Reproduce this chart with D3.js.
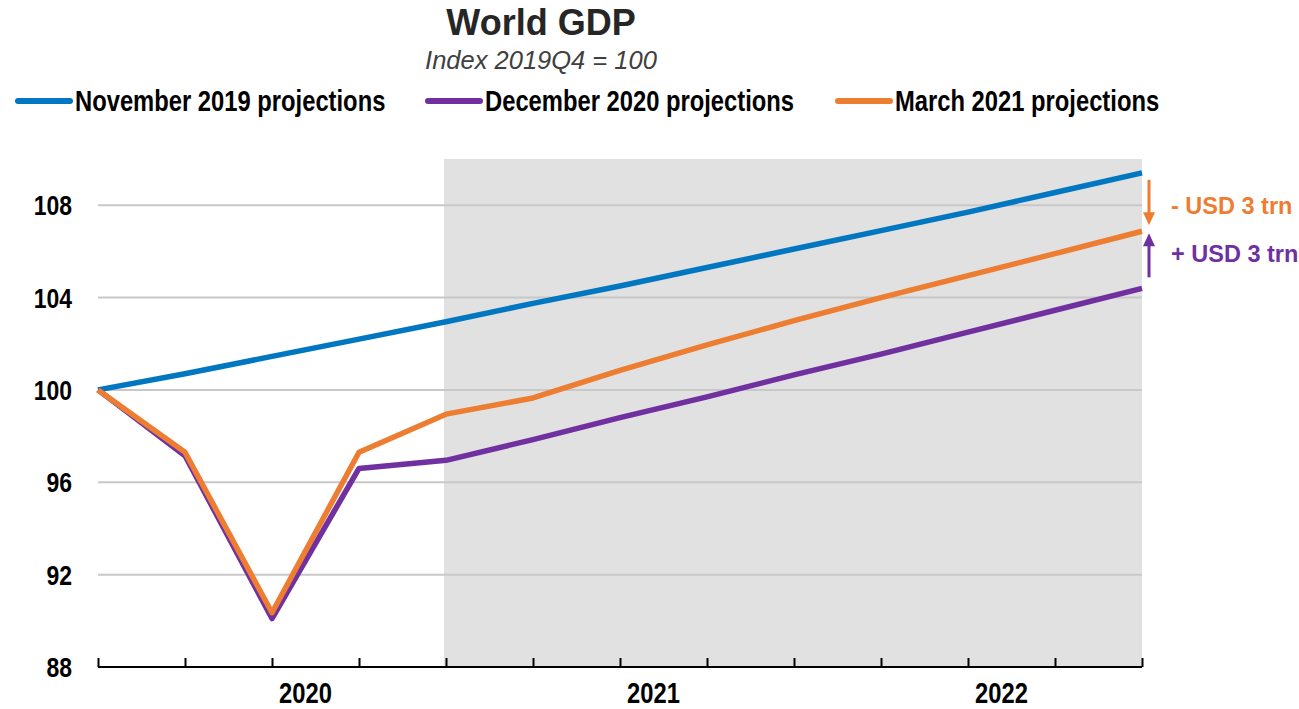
<!DOCTYPE html>
<html>
<head>
<meta charset="utf-8">
<script src="https://cdn.jsdelivr.net/npm/d3@7"></script>
<style>
  body { margin: 0; background: #fff; }
  svg text { font-family: "Liberation Sans", Arial, sans-serif; font-weight: bold; }
</style>
</head>
<body>
<div id="chart"></div>
<script>
var width = 1299, height = 709;

// quarters 2019Q4 .. 2022Q4
var quarters = ["2019Q4", "2020Q1", "2020Q2", "2020Q3", "2020Q4",
                "2021Q1", "2021Q2", "2021Q3", "2021Q4",
                "2022Q1", "2022Q2", "2022Q3", "2022Q4"];
var years = ["2020", "2021", "2022"];
var nov2019 = [100, 100.7, 101.45, 102.2, 102.95, 103.75, 104.5, 105.3, 106.1, 106.9, 107.7, 108.55, 109.4];
var dec2020 = [100, 97.15, 90.1, 96.6, 96.95, 97.85, 98.8, 99.7, 100.65, 101.55, 102.5, 103.45, 104.4];
var mar2021 = [100, 97.3, 90.35, 97.3, 98.95, 99.65, 100.85, 101.95, 103.0, 104.0, 104.95, 105.9, 106.87];
var yTicks = [88, 92, 96, 100, 104, 108];
var seriesNames = ["November 2019 projections", "December 2020 projections", "March 2021 projections"];
var colors = ["#0077c0", "#7030a0", "#ed7d31"];
var projStart = "2020Q4";

var narrow = 0.82; // no narrow font installed, squeeze regular bold

var x = d3.scalePoint().domain(quarters).range([98, 1142]);
var y = d3.scaleLinear().domain([88, 110]).range([667, 159]);

var svg = d3.select("#chart").append("svg")
    .attr("width", width)
    .attr("height", height);

function squeezed(sel, tx, ty) {
    return sel.attr("transform", "translate(" + tx + "," + ty + ") scale(" + narrow + ",1)");
}

// title
svg.append("text")
    .attr("x", 541).attr("y", 35)
    .attr("text-anchor", "middle")
    .style("font-size", "36px").style("fill", "#262626")
    .text("World GDP");
svg.append("text")
    .attr("x", 541).attr("y", 69)
    .attr("text-anchor", "middle")
    .style("font-size", "25.5px").style("font-weight", "normal")
    .style("font-style", "italic").style("fill", "#404040")
    .text("Index 2019Q4 = 100");

// legend
var legendX = [15, 425, 835];
var legend = svg.selectAll(".legend")
    .data(seriesNames)
    .enter().append("g")
    .attr("transform", (d, i) => "translate(" + legendX[i] + ",101)");
legend.append("line")
    .attr("x1", 3).attr("x2", 55)
    .attr("stroke", (d, i) => colors[i])
    .attr("stroke-width", 6)
    .attr("stroke-linecap", "round");
legend.append("text")
    .call(squeezed, 60, 10)
    .style("font-size", "29px")
    .text(d => d);

// shaded projection area
svg.append("rect")
    .attr("x", x(projStart) - 2)
    .attr("y", y(110))
    .attr("width", x("2022Q4") - x(projStart) + 2)
    .attr("height", y(88) - y(110))
    .attr("fill", "#e1e1e1");

// gridlines
svg.append("g").selectAll("line")
    .data(yTicks.slice(1))
    .enter().append("line")
    .attr("x1", 98).attr("x2", 1142)
    .attr("y1", d => y(d)).attr("y2", d => y(d))
    .attr("stroke", "#c8c8c8")
    .attr("stroke-width", 2);

// y labels
svg.append("g").selectAll("text")
    .data(yTicks)
    .enter().append("text")
    .each(function (d) { squeezed(d3.select(this), 72, y(d)); })
    .attr("dy", "0.36em")
    .attr("text-anchor", "end")
    .style("font-size", "28px")
    .text(d => d);

// x axis
var xAxis = d3.axisBottom(x).tickSize(-9).tickFormat("");
var gx = svg.append("g")
    .attr("transform", "translate(0,667)")
    .call(xAxis);
gx.select(".domain").attr("d", "M98,0H1142").attr("stroke", "#000").attr("stroke-width", 2);
gx.selectAll(".tick line").attr("stroke", "#000").attr("stroke-width", 2);

svg.selectAll(".year")
    .data(years)
    .enter().append("text")
    .each(function (d) {
        squeezed(d3.select(this), (x(d + "Q1") + x(d + "Q4")) / 2 - 10, 703);
    })
    .attr("text-anchor", "middle")
    .style("font-size", "29px")
    .text(d => d);

// lines
var line = d3.line()
    .x((d, i) => x(quarters[i]))
    .y(d => y(d));
[nov2019, dec2020, mar2021].forEach(function (s, i) {
    svg.append("path")
        .datum(s)
        .attr("d", line)
        .attr("fill", "none")
        .attr("stroke", colors[i])
        .attr("stroke-width", 5.5)
        .attr("stroke-linejoin", "round");
});

// arrows
function arrow(x0, yFrom, yTo, color) {
    var dir = yTo > yFrom ? 1 : -1;
    svg.append("line")
        .attr("x1", x0).attr("x2", x0)
        .attr("y1", yFrom).attr("y2", yTo - dir * 10)
        .attr("stroke", color).attr("stroke-width", 3);
    svg.append("path")
        .attr("d", "M" + (x0 - 6) + "," + (yTo - dir * 13) + "L" + (x0 + 6) + "," + (yTo - dir * 13) + "L" + x0 + "," + yTo + "Z")
        .attr("fill", color);
}
var last = quarters.length - 1;
arrow(1149, y(nov2019[last]) + 7, y(mar2021[last]) - 6, colors[2]);
arrow(1149, y(dec2020[last]) - 11, y(mar2021[last]) + 2, colors[1]);

svg.append("text")
    .attr("x", 1171).attr("y", 214)
    .style("font-size", "23.5px").style("fill", colors[2])
    .text("- USD 3 trn");
svg.append("text")
    .attr("x", 1171).attr("y", 262)
    .style("font-size", "23.5px").style("fill", colors[1])
    .text("+ USD 3 trn");
</script>
</body>
</html>
